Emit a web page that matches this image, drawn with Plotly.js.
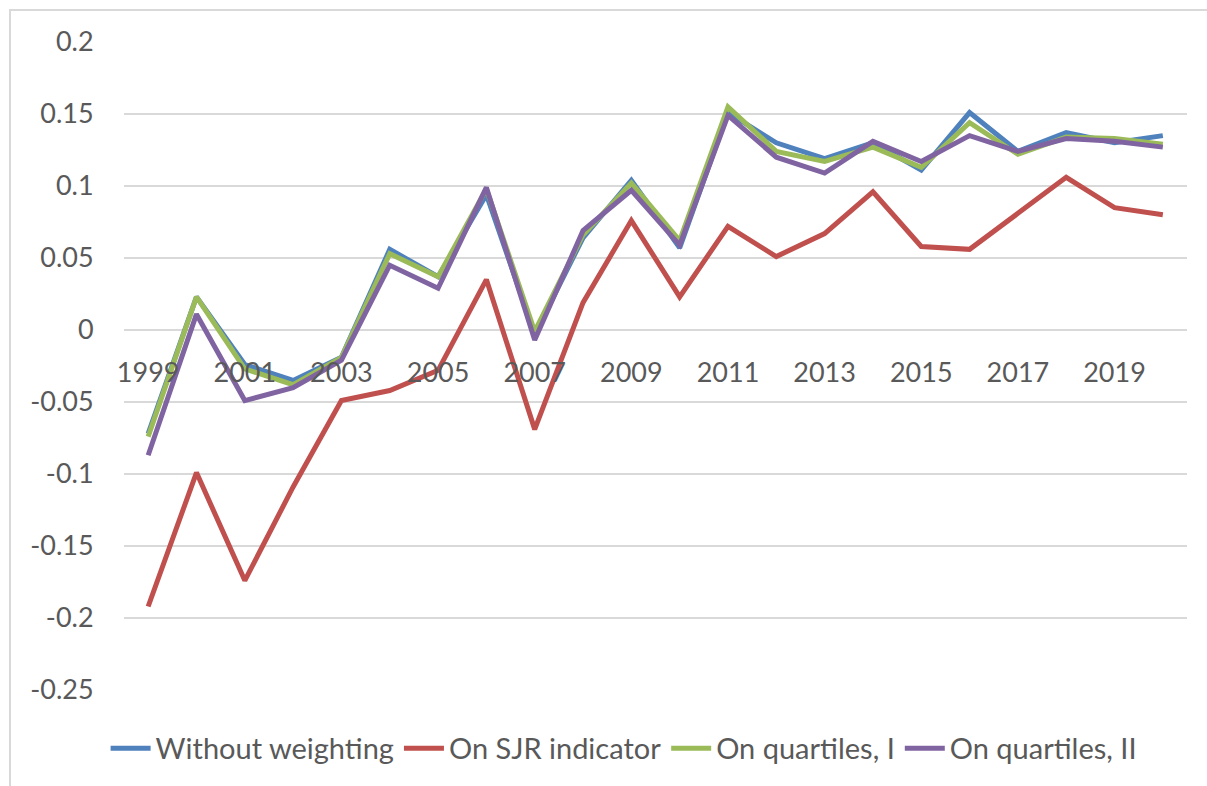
<!DOCTYPE html>
<html>
<head>
<meta charset="utf-8">
<script src="https://cdn.plot.ly/plotly-3.0.1.min.js"></script>
<style>
  html, body { margin: 0; padding: 0; background: #fff; }
  #wrap { position: relative; width: 1207px; height: 786px; overflow: hidden; }
  #frame { position: absolute; left: 9px; top: 9px; width: 1300px; height: 900px; border: 2px solid #d9d9d9; box-sizing: border-box; }
  #chart { position: absolute; left: 0; top: 0; width: 1207px; height: 786px; }
</style>
</head>
<body>
<div id="wrap">
  <div id="frame"></div>
  <div id="chart"></div>
</div>
<script>
const years = ["1999","2000","2001","2002","2003","2004","2005","2006","2007","2008","2009","2010","2011","2012","2013","2014","2015","2016","2017","2018","2019","2020"];
const xTickVals = ["1999","2001","2003","2005","2007","2009","2011","2013","2015","2017","2019"];
const yTickVals = [0.2, 0.15, 0.1, 0.05, 0, -0.05, -0.1, -0.15, -0.2, -0.25];
const yTickText = ["0.2", "0.15", "0.1", "0.05", "0", "-0.05", "-0.1", "-0.15", "-0.2", "-0.25"];

const seriesNames = ["Without weighting", "On SJR indicator", "On quartiles, I", "On quartiles, II"];
const withoutWeighting = [-0.072, 0.023, -0.024, -0.035, -0.019, 0.056, 0.037, 0.094, -0.003, 0.064, 0.104, 0.057, 0.151, 0.130, 0.119, 0.130, 0.111, 0.151, 0.124, 0.137, 0.130, 0.135];
const onSJR = [-0.192, -0.099, -0.174, -0.109, -0.049, -0.042, -0.028, 0.035, -0.069, 0.019, 0.076, 0.023, 0.072, 0.051, 0.067, 0.096, 0.058, 0.056, 0.081, 0.106, 0.085, 0.080];
const quartilesI = [-0.074, 0.023, -0.027, -0.038, -0.019, 0.053, 0.037, 0.098, -0.001, 0.066, 0.102, 0.062, 0.155, 0.124, 0.117, 0.127, 0.113, 0.144, 0.122, 0.134, 0.133, 0.129];
const quartilesII = [-0.087, 0.011, -0.049, -0.040, -0.021, 0.045, 0.029, 0.099, -0.007, 0.069, 0.097, 0.059, 0.149, 0.120, 0.109, 0.131, 0.117, 0.135, 0.124, 0.133, 0.131, 0.127];
const colors = ["#4F81BD", "#C0504D", "#9BBB59", "#8064A2"];

const allSeries = [withoutWeighting, onSJR, quartilesI, quartilesII];
const traces = allSeries.map((vals, i) => ({
  x: years,
  y: vals,
  type: "scatter",
  mode: "lines",
  name: seriesNames[i],
  line: { color: colors[i], width: 5 },
  hoverinfo: "x+y+name"
}));

const yMin = -0.25, yMax = 0.2;
const layout = {
  width: 1207,
  height: 786,
  margin: { l: 124, r: 20, t: 42, b: 96 },
  paper_bgcolor: "rgba(0,0,0,0)",
  plot_bgcolor: "rgba(0,0,0,0)",
  font: { family: "Lato, 'Open Sans', sans-serif", size: 27, color: "#595959" },
  showlegend: true,
  legend: {
    orientation: "h",
    x: 0.47,
    xanchor: "center",
    y: -0.09,
    yanchor: "middle",
    font: { size: 29, color: "#595959" },
    itemwidth: 40,
    tracegroupgap: 0
  },
  xaxis: {
    type: "category",
    range: [-0.5, years.length - 0.5],
    tickvals: xTickVals,
    ticktext: xTickVals,
    showgrid: false,
    zeroline: false,
    showline: false,
    anchor: "free",
    position: (0 - yMin) / (yMax - yMin),
    ticks: "outside",
    ticklen: 19,
    tickcolor: "rgba(0,0,0,0)",
    tickfont: { size: 27, color: "#595959" },
    fixedrange: true
  },
  yaxis: {
    range: [yMin, yMax],
    tickvals: yTickVals,
    ticktext: yTickText,
    showgrid: true,
    gridcolor: "#d9d9d9",
    gridwidth: 2,
    zeroline: false,
    showline: false,
    ticks: "outside",
    ticklen: 24,
    tickcolor: "rgba(0,0,0,0)",
    tickfont: { size: 27, color: "#595959" },
    fixedrange: true
  }
};

Plotly.newPlot("chart", traces, layout, { displayModeBar: false, responsive: false });
</script>
</body>
</html>
